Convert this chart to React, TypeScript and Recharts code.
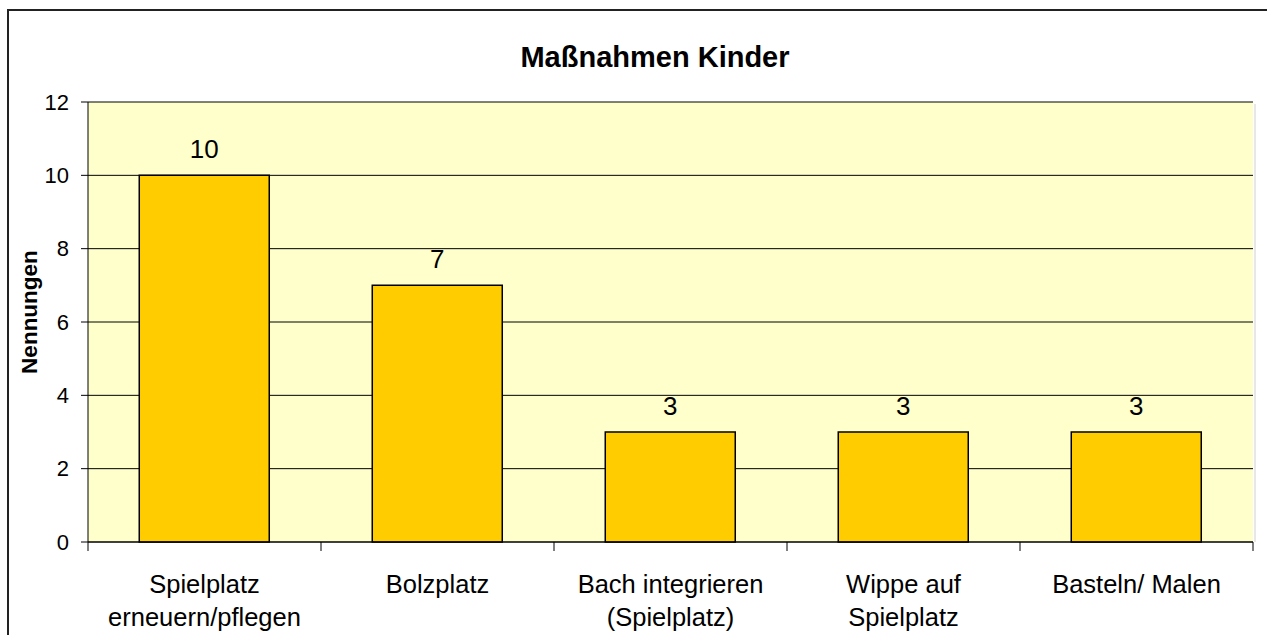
import React from "react";
import { BarChart, Bar, XAxis, YAxis, CartesianGrid, LabelList } from "recharts";

const categories = [
  "Spielplatz\nerneuern/pflegen",
  "Bolzplatz",
  "Bach integrieren\n(Spielplatz)",
  "Wippe auf\nSpielplatz",
  "Basteln/ Malen",
];
const values = [10, 7, 3, 3, 3];
const yTicks = [0, 2, 4, 6, 8, 10, 12];
const title = "Maßnahmen Kinder";
const yLabel = "Nennungen";

const data = categories.map((name, i) => ({ name, value: values[i] }));

const W = 1267;
const H = 635;
const MARGIN = { top: 102, right: 14, bottom: 0, left: 0 };
const Y_AXIS_W = 88;
const X_AXIS_H = 93;
const PLOT_W = W - MARGIN.left - MARGIN.right - Y_AXIS_W;
const FONT = "'Liberation Sans', Arial, sans-serif";

const XTick = (props: any) => {
  const { x, y, payload, index } = props;
  const lines = String(payload.value).split("\n");
  const band = PLOT_W / categories.length;
  const last = index === categories.length - 1;
  return (
    <g>
      <line x1={x - band / 2} y1={y} x2={x - band / 2} y2={y + 9} stroke="#000" strokeWidth={1} />
      {last && <line x1={x + band / 2} y1={y} x2={x + band / 2} y2={y + 9} stroke="#000" strokeWidth={1} />}
      <text textAnchor="middle" fontSize={25.5} fill="#000" fontFamily={FONT}>
        {lines.map((l, i) => (
          <tspan key={i} x={x} y={y + 51 + i * 33}>
            {l}
          </tspan>
        ))}
      </text>
    </g>
  );
};

export default function App() {
  return (
    <div style={{ position: "absolute", left: 0, top: 0, width: W, height: H, overflow: "hidden", background: "#fff" }}>
      <style>{"html,body{overflow:hidden;}"}</style>
      <div
        style={{
          position: "absolute",
          left: 7,
          top: 9,
          width: W,
          height: H,
          borderLeft: "2px solid #222",
          borderTop: "2px solid #222",
        }}
      />
      <div style={{ position: "absolute", left: 0, top: 0 }}>
        <BarChart width={W} height={H} data={data} margin={MARGIN} barCategoryGap="22%">
          <CartesianGrid
            xAxisId="cat"
            yAxisId="left"
            vertical={false}
            stroke="#000"
            strokeWidth={1}
            fill="#FFFFCC"
            fillOpacity={1}
          />
          <XAxis
            xAxisId="cat"
            dataKey="name"
            height={X_AXIS_H}
            interval={0}
            tickSize={0}
            tickMargin={0}
            tickLine={false}
            axisLine={{ stroke: "#000", strokeWidth: 1 }}
            tick={<XTick />}
          />
          <XAxis
            xAxisId="top"
            orientation="top"
            height={0}
            tick={false}
            tickLine={false}
            axisLine={{ stroke: "#808080", strokeWidth: 2 }}
          />
          <YAxis
            yAxisId="left"
            width={Y_AXIS_W}
            domain={[0, 12]}
            ticks={yTicks}
            interval={0}
            tickSize={7}
            tickMargin={12}
            tick={{ fontSize: 22, fill: "#000", fontFamily: FONT }}
            tickLine={{ stroke: "#000" }}
            axisLine={{ stroke: "#000", strokeWidth: 1 }}
          />
          <YAxis
            yAxisId="right"
            orientation="right"
            width={0}
            tick={false}
            tickLine={false}
            axisLine={{ stroke: "#808080", strokeWidth: 2 }}
          />
          <Bar
            xAxisId="cat"
            yAxisId="left"
            dataKey="value"
            fill="#FFCC00"
            stroke="#000"
            strokeWidth={1.5}
            isAnimationActive={false}
          >
            <LabelList dataKey="value" position="top" offset={17} fontSize={26} fill="#000" fontFamily={FONT} />
          </Bar>
        </BarChart>
      </div>
      <svg width={W} height={H} style={{ position: "absolute", left: 0, top: 0, pointerEvents: "none" }}>
        <line x1={1255} y1={104} x2={1255} y2={542} stroke="#d0d0d0" strokeWidth={1} />
        <text x={655} y={67} textAnchor="middle" fontSize={29} fontWeight="bold" fontFamily={FONT} fill="#000">
          {title}
        </text>
        <text
          x={0}
          y={0}
          transform="translate(37,312) rotate(-90)"
          textAnchor="middle"
          fontSize={22.5}
          fontWeight="bold"
          fontFamily={FONT}
          fill="#000"
        >
          {yLabel}
        </text>
      </svg>
    </div>
  );
}
